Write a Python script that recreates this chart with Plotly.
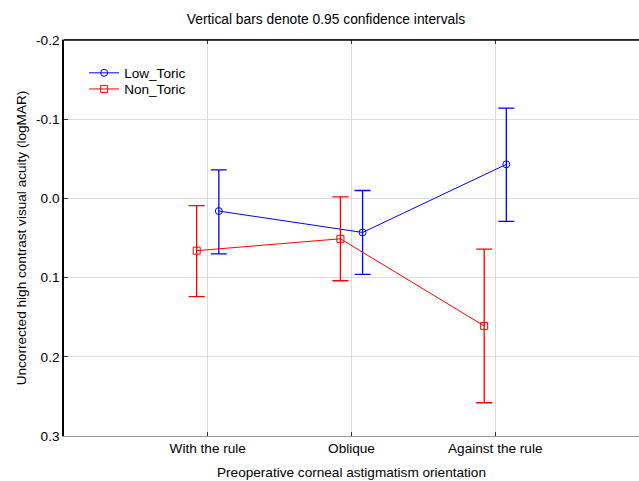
import plotly.graph_objects as go

categories = ["With the rule", "Oblique", "Against the rule"]

low_mean = [0.016, 0.043, -0.043]
low_lower = [-0.036, -0.010, -0.114]
low_upper = [0.070, 0.096, 0.029]

non_mean = [0.066, 0.051, 0.161]
non_lower = [0.009, -0.002, 0.064]
non_upper = [0.124, 0.104, 0.258]

y_ticks = [-0.2, -0.1, 0.0, 0.1, 0.2, 0.3]
y_ticktext = ["-0.2", "-0.1", "0.0", "0.1", "0.2", "0.3"]

offset = 0.077
idx = list(range(len(categories)))
FS = 13.6

fig = go.Figure()

fig.add_trace(go.Scatter(
    x=[i + offset for i in idx], y=low_mean, name="Low_Toric",
    mode="lines+markers", legend="legend",
    line=dict(color="#0000ff", width=1),
    marker=dict(symbol="circle-open", size=7, color="#0000ff", line=dict(width=1)),
    error_y=dict(type="data", symmetric=False,
                 array=[u - m for u, m in zip(low_upper, low_mean)],
                 arrayminus=[m - l for l, m in zip(low_lower, low_mean)],
                 color="#0000ff", thickness=1.3, width=8),
))
fig.add_trace(go.Scatter(
    x=[i - offset for i in idx], y=non_mean, name="Non_Toric",
    mode="lines+markers", legend="legend2",
    line=dict(color="#ff0000", width=1),
    marker=dict(symbol="square-open", size=7, color="#ff0000", line=dict(width=1)),
    error_y=dict(type="data", symmetric=False,
                 array=[u - m for u, m in zip(non_upper, non_mean)],
                 arrayminus=[m - l for l, m in zip(non_lower, non_mean)],
                 color="#ff0000", thickness=1.3, width=8),
))

legend_common = dict(xanchor="left", yanchor="middle", bgcolor="rgba(0,0,0,0)",
                     font=dict(size=FS), itemwidth=30, borderwidth=0)

fig.update_layout(
    width=639, height=481,
    margin=dict(l=64, r=0, t=40, b=45),
    paper_bgcolor="white", plot_bgcolor="white",
    font=dict(family="Liberation Sans, Arial, sans-serif", size=FS, color="black"),
    title=dict(text="Vertical bars denote 0.95 confidence intervals",
               x=326 / 639, xanchor="center", y=1 - 19 / 481, yanchor="middle",
               font=dict(size=13.8)),
    showlegend=True,
    legend=dict(x=0.035, y=0.9167, **legend_common),
    legend2=dict(x=0.035, y=0.876, **legend_common),
    xaxis=dict(
        range=[-1, 3], tickvals=idx, ticktext=categories,
        showgrid=True, gridcolor="#dcdcdc", gridwidth=1, zeroline=False,
        showline=True, linecolor="#999999", linewidth=1, mirror="ticks",
        ticks="inside", ticklen=4, tickcolor="#333333",
        tickfont=dict(size=FS),
        title=dict(text="Preoperative corneal astigmatism orientation", standoff=12,
                   font=dict(size=FS)),
    ),
    yaxis=dict(
        range=[0.3, -0.2], tickvals=y_ticks, ticktext=y_ticktext,
        showgrid=True, gridcolor="#dcdcdc", gridwidth=1, zeroline=False,
        showline=True, linecolor="black", linewidth=1.5,
        ticks="inside", ticklen=4, tickcolor="#333333",
        tickfont=dict(size=FS),
        title=dict(text="Uncorrected high contrast visual acuity (logMAR)", standoff=6,
                   font=dict(size=FS)),
    ),
    shapes=[dict(type="line", xref="paper", yref="paper", x0=0, x1=1, y0=1, y1=1,
                 line=dict(color="black", width=1.5), layer="above")],
)

fig.write_html("out.html", config={"displayModeBar": False},
               post_script="document.body.style.margin='0px';")
